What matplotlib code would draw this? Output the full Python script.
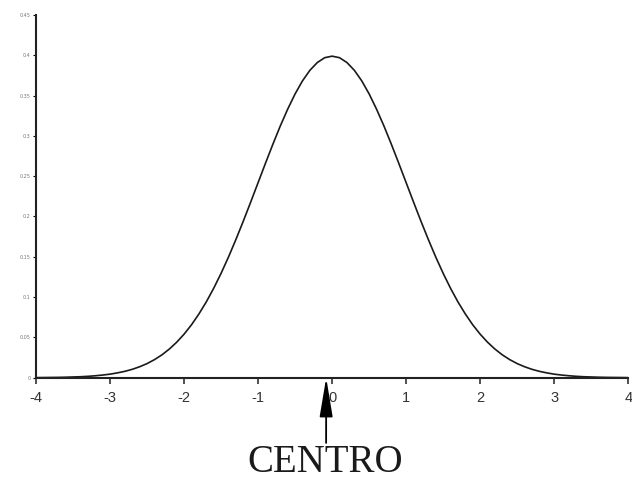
##==============================================================================
## Normal curve with the CENTRO arrow
##==============================================================================
import matplotlib
matplotlib.use('Agg')
from matplotlib import pyplot as plt

## values (step of 0.1 along x)
x_vals = [-4.0, -3.9, -3.8, -3.7, -3.6, -3.5, -3.4, -3.3, -3.2, -3.1,
          -3.0, -2.9, -2.8, -2.7, -2.6, -2.5, -2.4, -2.3, -2.2, -2.1,
          -2.0, -1.9, -1.8, -1.7, -1.6, -1.5, -1.4, -1.3, -1.2, -1.1,
          -1.0, -0.9, -0.8, -0.7, -0.6, -0.5, -0.4, -0.3, -0.2, -0.1,
          0.0,
          0.1, 0.2, 0.3, 0.4, 0.5, 0.6, 0.7, 0.8, 0.9, 1.0,
          1.1, 1.2, 1.3, 1.4, 1.5, 1.6, 1.7, 1.8, 1.9, 2.0,
          2.1, 2.2, 2.3, 2.4, 2.5, 2.6, 2.7, 2.8, 2.9, 3.0,
          3.1, 3.2, 3.3, 3.4, 3.5, 3.6, 3.7, 3.8, 3.9, 4.0]
y_vals = [0.0001, 0.0002, 0.0003, 0.0004, 0.0006, 0.0009, 0.0012, 0.0017,
          0.0024, 0.0033, 0.0044, 0.0060, 0.0079, 0.0104, 0.0136, 0.0175,
          0.0224, 0.0283, 0.0355, 0.0440, 0.0540, 0.0656, 0.0790, 0.0940,
          0.1109, 0.1295, 0.1497, 0.1714, 0.1942, 0.2179, 0.2420, 0.2661,
          0.2897, 0.3123, 0.3332, 0.3521, 0.3683, 0.3814, 0.3910, 0.3970,
          0.3989,
          0.3970, 0.3910, 0.3814, 0.3683, 0.3521, 0.3332, 0.3123, 0.2897,
          0.2661, 0.2420, 0.2179, 0.1942, 0.1714, 0.1497, 0.1295, 0.1109,
          0.0940, 0.0790, 0.0656, 0.0540, 0.0440, 0.0355, 0.0283, 0.0224,
          0.0175, 0.0136, 0.0104, 0.0079, 0.0060, 0.0044, 0.0033, 0.0024,
          0.0017, 0.0012, 0.0009, 0.0006, 0.0004, 0.0003, 0.0002, 0.0001]

x_ticks = [-4, -3, -2, -1, 0, 1, 2, 3, 4]
y_ticks = [0, 0.05, 0.1, 0.15, 0.2, 0.25, 0.3, 0.35, 0.4, 0.45]
y_tick_labels = ['0', '0.05', '0.1', '0.15', '0.2', '0.25', '0.3', '0.35',
                 '0.4', '0.45']

centre_x = -0.08
label = 'CENTRO'

fig = plt.figure(figsize=(6.32, 4.83), dpi=100)
ax = fig.add_axes([0.057, 0.218, 0.937, 0.751])

ax.plot(x_vals, y_vals, color='#1a1a1a', lw=1.2, solid_joinstyle='round')

ax.set_xlim(-4, 4)
ax.set_ylim(0, 0.45)
ax.set_xticks(x_ticks)
ax.set_xticklabels([str(t) for t in x_ticks])
ax.set_yticks(y_ticks)
ax.set_yticklabels(y_tick_labels)

for s in ['top', 'right']:
    ax.spines[s].set_visible(False)
for s in ['left', 'bottom']:
    ax.spines[s].set_linewidth(1.5)
    ax.spines[s].set_color('#222222')

ax.tick_params(axis='x', direction='out', length=4.5, width=1.2,
               labelsize=10.5, colors='#333333', pad=5)
ax.tick_params(axis='y', direction='out', length=2, width=0.8,
               labelsize=3.5, labelcolor='#777777', pad=2)
for t in ax.get_xticklabels():
    t.set_family('Liberation Sans')

# arrow pointing up at the centre
ax.annotate('', xy=(centre_x, 0), xycoords='data',
            xytext=(0.516, 0.083), textcoords='figure fraction',
            annotation_clip=False,
            arrowprops=dict(arrowstyle='-|>,head_length=2.4,head_width=0.4',
                            lw=1.3, color='black', mutation_scale=10,
                            shrinkA=0, shrinkB=0))

fig.text(0.514, 0.043, label, family='Liberation Serif', size=28,
         ha='center', va='center', color='#1a1a1a')

fig.savefig('out.png', dpi=100)
